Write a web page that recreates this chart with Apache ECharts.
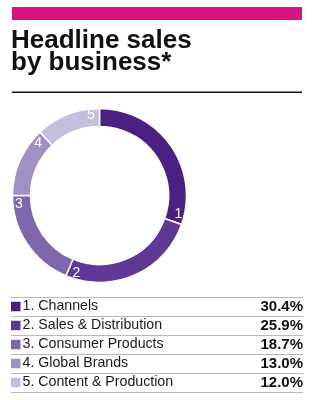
<!DOCTYPE html>
<html>
<head>
<meta charset="utf-8">
<script src="https://cdn.jsdelivr.net/npm/echarts@6/dist/echarts.min.js"></script>
<style>
html,body{margin:0;padding:0;background:#fff;}
#c{width:312px;height:400px;}
</style>
</head>
<body>
<div id="c"></div>
<script>
const categories = ['Channels', 'Sales & Distribution', 'Consumer Products', 'Global Brands', 'Content & Production'];
const shares = [30.4, 25.9, 18.7, 13.0, 12.0];
const colors = ['#4a2182', '#5f3795', '#8066ad', '#a090c3', '#c6bedd'];
const titleText = 'Headline sales\nby business*';

const FONT = '"Liberation Sans", Arial, Helvetica, sans-serif';
const LABEL_SPAN = 3.4;

const pieData = categories.map((c, i) => ({
  name: (i + 1) + '. ' + c,
  value: shares[i],
  itemStyle: { color: colors[i] }
}));

const labelData = [];
shares.forEach((v, i) => {
  labelData.push({ name: 'a' + i, value: v - LABEL_SPAN, label: { show: false } });
  labelData.push({ name: String(i + 1), value: LABEL_SPAN, label: { show: true } });
});

const rowLabels = categories.map((c, i) => (i + 1) + '. ' + c);
const pctLabels = shares.map(v => v.toFixed(1) + '%');

const rich = { t: { fontFamily: FONT, fontSize: 14.2, color: '#1a1a1a', padding: [0, 0, 0, 2] } };
colors.forEach((col, i) => {
  rich['b' + i] = { width: 9.5, height: 9.5, backgroundColor: col };
});

const chart = echarts.init(document.getElementById('c'), null, { renderer: 'canvas' });
chart.setOption({
  backgroundColor: '#fff',
  animation: false,
  title: {
    text: titleText,
    left: 11,
    top: 29.5,
    padding: 0,
    textStyle: { fontFamily: FONT, fontSize: 26, fontWeight: 'bold', color: '#111', lineHeight: 22 }
  },
  graphic: [
    { type: 'rect', shape: { x: 12, y: 7, width: 290, height: 13 }, style: { fill: '#d6137f' } },
    { type: 'rect', shape: { x: 12, y: 91.5, width: 290, height: 1.5 }, style: { fill: '#111' } }
  ],
  grid: { left: 11, right: 9, top: 297, height: 95 },
  xAxis: { type: 'value', min: 0, max: 1, show: false },
  yAxis: [
    {
      type: 'category', data: rowLabels, inverse: true,
      axisLine: { show: false }, axisTick: { show: false },
      splitLine: { show: true, interval: 0, lineStyle: { color: '#b8b8b8', width: 1.2 } },
      axisLabel: {
        inside: true, margin: 0, interval: 0,
        formatter: (val, idx) => '{b' + idx + '|}{t|' + val + '}',
        rich: rich
      }
    },
    {
      type: 'category', data: pctLabels, inverse: true, position: 'right',
      axisLine: { show: false }, axisTick: { show: false }, splitLine: { show: false },
      axisLabel: { inside: true, margin: 0, interval: 0, fontFamily: FONT, fontSize: 15, fontWeight: 'bold', color: '#111' }
    }
  ],
  series: [
    {
      type: 'pie', center: [99.5, 195.5], radius: [69, 87], startAngle: 90, clockwise: true,
      silent: true, label: { show: false }, labelLine: { show: false },
      itemStyle: { borderColor: '#fff', borderWidth: 1.5 },
      data: pieData
    },
    {
      type: 'pie', center: [99.5, 195.5], radius: [69, 87], startAngle: 90, clockwise: true,
      silent: true, z: 5, labelLine: { show: false },
      itemStyle: { color: 'rgba(0,0,0,0)' },
      label: { position: 'inside', color: '#fff', fontFamily: FONT, fontSize: 14, formatter: '{b}' },
      data: labelData
    }
  ]
});
</script>
</body>
</html>
